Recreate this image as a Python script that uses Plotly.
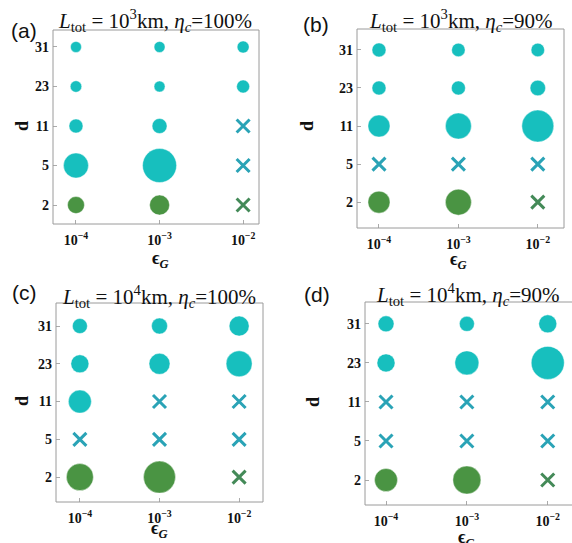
import plotly.graph_objects as go

W, H = 572, 543

eps_labels = ["10<sup>−4</sup>", "10<sup>−3</sup>", "10<sup>−2</sup>"]
d_labels = ["2", "5", "11", "23", "31"]

# bubble values per panel: rows = d (2,5,11,23,31), cols = eps (1e-4,1e-3,1e-2); None = failure (X)
vals_a = [[1.7, 2.0, None],
          [2.5, 3.4, None],
          [1.4, 1.5, None],
          [1.15, 1.1, 1.3],
          [1.1, 1.1, 1.2]]
vals_b = [[2.2, 2.6, None],
          [None, None, None],
          [2.2, 2.6, 3.2],
          [1.4, 1.4, 1.55],
          [1.4, 1.35, 1.35]]
vals_c = [[2.7, 3.2, None],
          [None, None, None],
          [2.3, None, None],
          [1.8, 2.1, 2.6],
          [1.5, 1.6, 2.0]]
vals_d = [[2.3, 2.8, None],
          [None, None, None],
          [None, None, None],
          [1.8, 2.4, 3.3],
          [1.6, 1.5, 1.8]]

panel_letters = ["(a)", "(b)", "(c)", "(d)"]
panel_titles = [
    "<i>L</i><sub>tot</sub> = 10<sup>3</sup>km, <i>η<sub>c</sub></i>=100%",
    "<i>L</i><sub>tot</sub> = 10<sup>3</sup>km, <i>η<sub>c</sub></i>=90%",
    "<i>L</i><sub>tot</sub> = 10<sup>4</sup>km, <i>η<sub>c</sub></i>=100%",
    "<i>L</i><sub>tot</sub> = 10<sup>4</sup>km, <i>η<sub>c</sub></i>=90%",
]
all_vals = [vals_a, vals_b, vals_c, vals_d]

SIZE_SCALE = 10.0
CYAN = "#17BFBE"
GREEN = "#4A9443"
X_CYAN = "#2AA3B6"
X_GREEN = "#448A58"
FRAME = "#9a9a9a"

# layout in pixels: (x0, x1, y0_top, y1_bottom, xrange, yrange)
panels = [
    (53, 259, 30, 224, [-0.275, 2.19], [-0.48, 4.43]),
    (357, 564, 29, 228, [-0.277, 2.33], [-0.68, 4.55]),
    (56, 263, 303, 502, [-0.30, 2.30], [-0.66, 4.61]),
    (365, 572, 302, 505, [-0.26, 2.30], [-0.64, 4.56]),
]
title_pos = [(155, 20), (461, 20), (159, 296), (468, 294)]
letter_pos = [(24, 31), (316, 25), (24, 292), (317, 294)]
ylab_pos = [(22, 126), (307, 126), (22, 401), (313, 402)]
xlab_pos = [(160, 259), (459, 260), (159, 529), (466, 538)]

fig = go.Figure()
tickfont = dict(family="Liberation Serif", size=14, color="#111", weight="bold")
annotations = []
shapes = []

for i, (vals, pan) in enumerate(zip(all_vals, panels)):
    x0, x1, yt, yb, xr, yr = pan
    xa = "x" if i == 0 else f"x{i+1}"
    ya = "y" if i == 0 else f"y{i+1}"
    cx, cy, cs, cc = [], [], [], []
    xx, xy, xc = [], [], []
    for r, d in enumerate(d_labels):
        for c, e in enumerate(eps_labels):
            v = vals[r][c]
            if v is None:
                xx.append(e); xy.append(d)
                xc.append(X_GREEN if d == "2" else X_CYAN)
            else:
                cx.append(e); cy.append(d)
                cs.append(v * SIZE_SCALE)
                cc.append(GREEN if d == "2" else CYAN)
    fig.add_trace(go.Scatter(x=cx, y=cy, mode="markers", xaxis=xa, yaxis=ya,
                             marker=dict(size=cs, color=cc, symbol="circle", opacity=1,
                                         line=dict(width=0.6, color="rgba(255,255,255,0.7)")),
                             showlegend=False, hoverinfo="skip"))
    fig.add_trace(go.Scatter(x=xx, y=xy, mode="markers", xaxis=xa, yaxis=ya,
                             marker=dict(size=13, symbol="x-thin-open", color=xc, opacity=1,
                                         line=dict(width=3, color=xc)),
                             showlegend=False, hoverinfo="skip"))
    axx = dict(domain=[x0 / W, min(x1 / W, 1.0)], anchor=ya, type="category",
               categoryorder="array", categoryarray=eps_labels, range=xr,
               showline=False, ticks="inside", ticklen=4, tickcolor="#aaa", showgrid=False,
               zeroline=False, tickfont=tickfont, ticklabelstandoff=6)
    axy = dict(domain=[1 - yb / H, 1 - yt / H], anchor=xa, type="category",
               categoryorder="array", categoryarray=d_labels, range=yr,
               showline=False, ticks="inside", ticklen=4, tickcolor="#aaa", showgrid=False,
               zeroline=False, tickfont=tickfont, ticklabelstandoff=3)
    key = "" if i == 0 else str(i + 1)
    fig.update_layout(**{f"xaxis{key}": axx, f"yaxis{key}": axy})

    # frame around the plotting area (right side left open for the cut-off panel d)
    if i != 3:
        shapes.append(dict(type="rect", xref=f"{xa} domain", yref=f"{ya} domain",
                           x0=0, x1=1, y0=0, y1=1, line=dict(color=FRAME, width=1),
                           fillcolor="rgba(0,0,0,0)", layer="above"))
    else:
        shapes.append(dict(type="path", xref=f"{xa} domain", yref=f"{ya} domain",
                           path="M 1.01 1 L 0 1 L 0 0 L 1.01 0",
                           line=dict(color=FRAME, width=1), layer="above"))

    tx, ty = title_pos[i]
    annotations.append(dict(text=panel_titles[i], x=tx / W, y=1 - ty / H, xref="paper", yref="paper",
                            showarrow=False, xanchor="center", yanchor="middle",
                            font=dict(family="Liberation Serif", size=21, color="#111")))
    lx, ly = letter_pos[i]
    annotations.append(dict(text=panel_letters[i], x=lx / W, y=1 - ly / H, xref="paper", yref="paper",
                            showarrow=False, xanchor="center", yanchor="middle",
                            font=dict(family="Liberation Sans", size=21, color="#111")))
    px_, py_ = ylab_pos[i]
    annotations.append(dict(text="<b>d</b>", x=px_ / W, y=1 - py_ / H, xref="paper", yref="paper",
                            showarrow=False, xanchor="center", yanchor="middle", textangle=-90,
                            font=dict(family="Liberation Serif", size=18, color="#111")))
    ex, ey = xlab_pos[i]
    annotations.append(dict(text="<b>ϵ<sub><i>G</i></sub></b>", x=ex / W, y=1 - ey / H, xref="paper", yref="paper",
                            showarrow=False, xanchor="center", yanchor="middle",
                            font=dict(family="Liberation Serif", size=18, color="#111")))

fig.update_layout(width=W, height=H, margin=dict(l=0, r=0, t=0, b=0, autoexpand=False),
                  paper_bgcolor="white", plot_bgcolor="white",
                  annotations=annotations, shapes=shapes)

fig.write_html("out.html", config={"displayModeBar": False},
               post_script="document.body.style.margin='0px';document.body.style.overflow='hidden';")
